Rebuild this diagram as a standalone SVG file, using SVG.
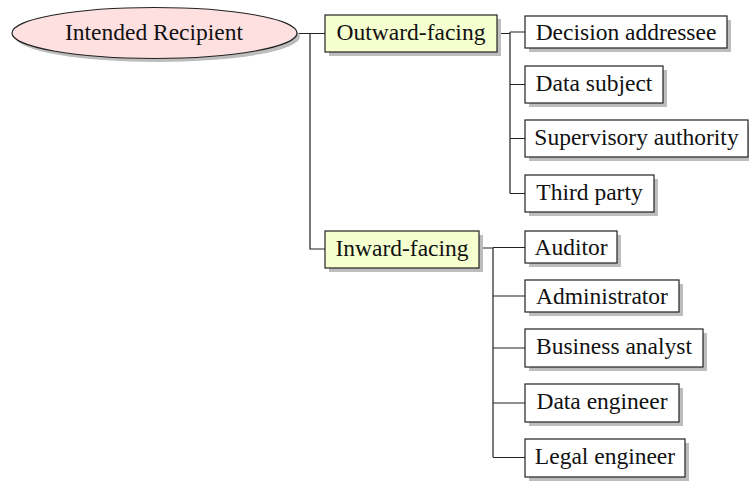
<svg xmlns="http://www.w3.org/2000/svg" width="749" height="481" viewBox="0 0 749 481">
<style>
.sh{fill:#bdbdbd;stroke:none}
.root{fill:#ffe0e0;stroke:#222;stroke-width:1.2}
.mid{fill:#f5ffcf;stroke:#222;stroke-width:1.2}
.leaf{fill:#fff;stroke:#222;stroke-width:1.2}
.t{font-family:"Liberation Serif","Times New Roman",serif;font-size:23.5px;fill:#111;text-anchor:middle}
.c{fill:none;stroke:#222;stroke-width:1.2}
</style>
<rect width="749" height="481" fill="#fff"/>
<g id="connectors">
<path class="c" d="M297 33.5H325M310 33.5V249H325"/>
<path class="c" d="M497 33.5H510M510 32V193.5M510 32H525M510 84.5H525M510 138.5H525M510 193.5H525"/>
<path class="c" d="M479 248H493M493 248V457M493 247.5H525M493 296H525M493 348H525M493 403H525M493 457.5H525"/>
</g>
<g id="intended-recipient">
<ellipse class="sh" cx="157.5" cy="36.5" rx="142.5" ry="25.5"/>
<ellipse class="root" cx="154.5" cy="33" rx="142.5" ry="25.5"/>
<text class="t" x="154" y="40">Intended Recipient</text>
</g>
<g id="outward-facing">
<rect class="sh" x="329" y="19" width="172" height="37"/>
<rect class="mid" x="325" y="15" width="172" height="37"/>
<text class="t" x="411" y="40">Outward-facing</text>
</g>
<g id="inward-facing">
<rect class="sh" x="329" y="235" width="154" height="37"/>
<rect class="mid" x="325" y="231" width="154" height="37"/>
<text class="t" x="402" y="256">Inward-facing</text>
</g>
<g id="decision-addressee">
<rect class="sh" x="529" y="20" width="202" height="32"/>
<rect class="leaf" x="525" y="16" width="202" height="32"/>
<text class="t" x="626" y="40">Decision addressee</text>
</g>
<g id="data-subject">
<rect class="sh" x="529" y="70" width="138" height="37"/>
<rect class="leaf" x="525" y="66" width="138" height="37"/>
<text class="t" x="594" y="91">Data subject</text>
</g>
<g id="supervisory-authority">
<rect class="sh" x="529" y="124" width="223" height="37"/>
<rect class="leaf" x="525" y="120" width="223" height="37"/>
<text class="t" x="636.5" y="145">Supervisory authority</text>
</g>
<g id="third-party">
<rect class="sh" x="529" y="179" width="129" height="37"/>
<rect class="leaf" x="525" y="175" width="129" height="37"/>
<text class="t" x="589.5" y="200">Third party</text>
</g>
<g id="auditor">
<rect class="sh" x="529" y="235" width="92" height="32"/>
<rect class="leaf" x="525" y="231" width="92" height="32"/>
<text class="t" x="571" y="255">Auditor</text>
</g>
<g id="administrator">
<rect class="sh" x="529" y="284" width="154" height="32"/>
<rect class="leaf" x="525" y="280" width="154" height="32"/>
<text class="t" x="602" y="304">Administrator</text>
</g>
<g id="business-analyst">
<rect class="sh" x="529" y="333" width="178" height="38"/>
<rect class="leaf" x="525" y="329" width="178" height="38"/>
<text class="t" x="614" y="354">Business analyst</text>
</g>
<g id="data-engineer">
<rect class="sh" x="529" y="388" width="154" height="38"/>
<rect class="leaf" x="525" y="384" width="154" height="38"/>
<text class="t" x="602" y="409">Data engineer</text>
</g>
<g id="legal-engineer">
<rect class="sh" x="529" y="443" width="160" height="38"/>
<rect class="leaf" x="525" y="439" width="160" height="38"/>
<text class="t" x="605" y="464">Legal engineer</text>
</g>
</svg>
